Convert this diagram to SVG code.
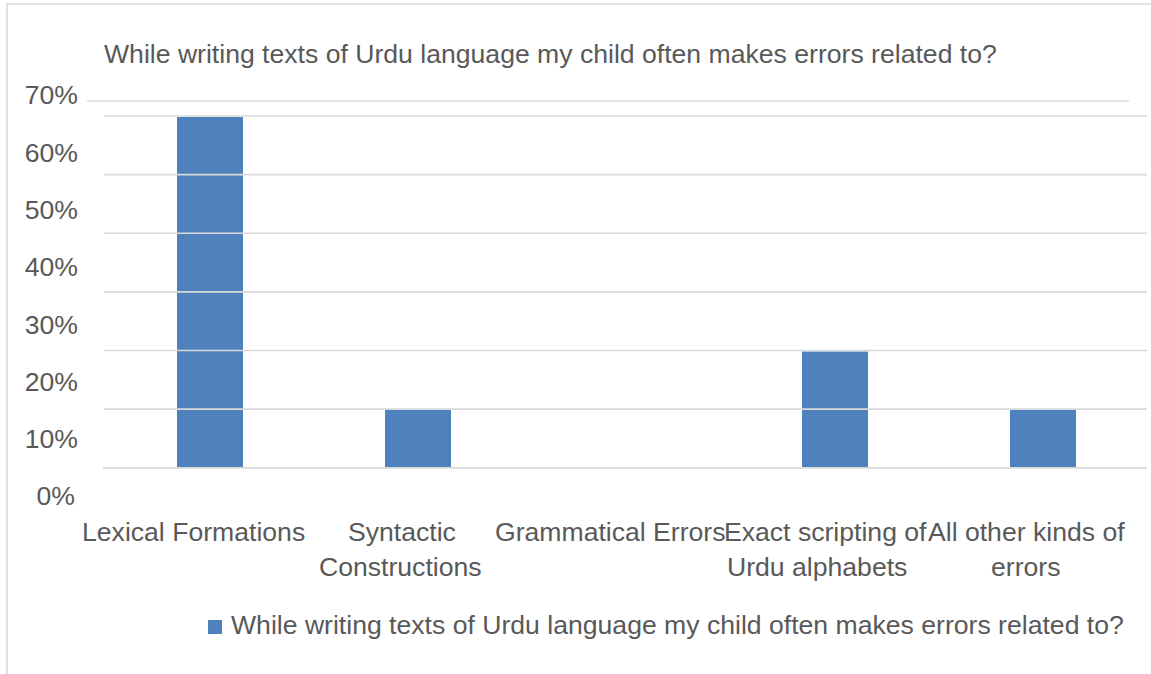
<svg xmlns="http://www.w3.org/2000/svg" width="1151" height="674" viewBox="0 0 1151 674">
  <style>
    .t { font-family: "Liberation Sans", Arial, sans-serif; font-size: 26.6px; fill: #595959; }
    .ax { text-anchor: end; }
    .grid { stroke: #D9D9D9; stroke-width: 1.6; fill: none; }
    .bar { fill: #4F81BD; }
  </style>
  <rect x="0" y="0" width="1151" height="674" fill="#FFFFFF"/>
  <g id="frame">
    <path class="grid" d="M7 674 V4 H1151"/>
  </g>
  <g id="title">
    <text class="t" x="104" y="63">While writing texts of Urdu language my child often makes errors related to?</text>
  </g>
  <g id="bars">
    <rect id="bar-lexical" class="bar" x="177" y="117" width="66" height="350.7"/>
    <rect id="bar-syntactic" class="bar" x="385" y="409.5" width="66" height="58.2"/>
    <rect id="bar-exact" class="bar" x="802" y="351.5" width="66" height="116.2"/>
    <rect id="bar-other" class="bar" x="1010" y="410" width="66" height="57.7"/>
  </g>
  <g id="gridlines">
    <line class="grid" x1="87" y1="101" x2="1129" y2="101"/>
    <line class="grid" x1="104" y1="116" x2="1147" y2="116"/>
    <line class="grid" x1="104" y1="174.6" x2="1147" y2="174.6"/>
    <line class="grid" x1="104" y1="233.2" x2="1147" y2="233.2"/>
    <line class="grid" x1="104" y1="291.9" x2="1147" y2="291.9"/>
    <line class="grid" x1="104" y1="350.5" x2="1147" y2="350.5"/>
    <line class="grid" x1="104" y1="409.1" x2="1147" y2="409.1"/>
    <line class="grid" x1="103" y1="467.9" x2="1147" y2="467.9"/>
  </g>
  <g id="y-axis">
    <text class="t ax" x="78" y="104">70%</text>
    <text class="t ax" x="78" y="162">60%</text>
    <text class="t ax" x="78" y="219">50%</text>
    <text class="t ax" x="78" y="276">40%</text>
    <text class="t ax" x="78" y="333.5">30%</text>
    <text class="t ax" x="78" y="391">20%</text>
    <text class="t ax" x="78" y="448">10%</text>
    <text class="t ax" x="75" y="505">0%</text>
  </g>
  <g id="x-axis">
    <text class="t" x="82" y="540.7">Lexical Formations</text>
    <text class="t" x="348" y="540.7">Syntactic</text>
    <text class="t" x="319" y="575.5">Constructions</text>
    <text class="t" x="495" y="540.7">Grammatical Errors</text>
    <text class="t" x="724" y="540.7">Exact scripting of</text>
    <text class="t" x="727" y="575.5">Urdu alphabets</text>
    <text class="t" x="928" y="540.7">All other kinds of</text>
    <text class="t" x="991" y="575.5">errors</text>
  </g>
  <g id="legend">
    <rect class="bar" x="208" y="620" width="14" height="14"/>
    <text class="t" x="231" y="634">While writing texts of Urdu language my child often makes errors related to?</text>
  </g>
</svg>
